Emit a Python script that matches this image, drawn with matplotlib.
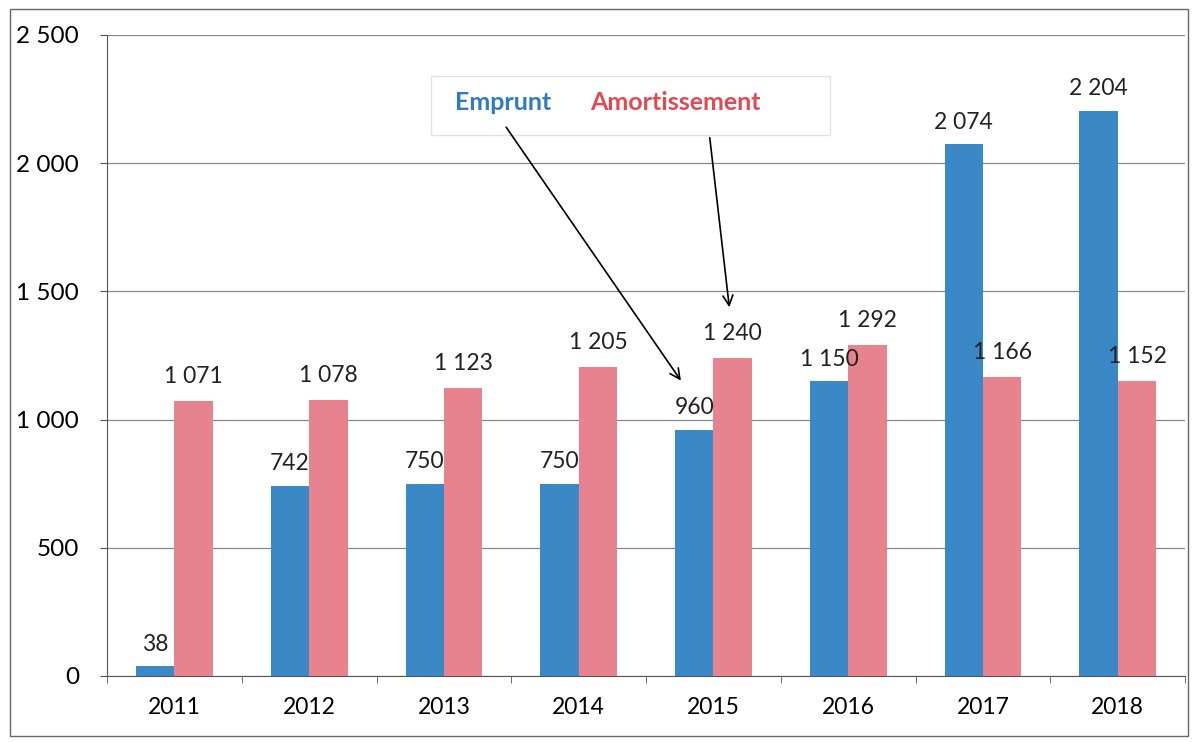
import numpy as np
import matplotlib.pyplot as plt
from matplotlib.patches import Rectangle

years = ['2011', '2012', '2013', '2014', '2015', '2016', '2017', '2018']
emprunt = [38, 742, 750, 750, 960, 1150, 2074, 2204]
amortissement = [1071, 1078, 1123, 1205, 1240, 1292, 1166, 1152]

blue = '#3a88c6'
pink = '#e7838f'


def fmt(v):
	return f"{v:,}".replace(",", " ")


def main():
	plt.rcParams['font.family'] = ['Lato', 'DejaVu Sans']

	fig = plt.figure(figsize=(11.98, 7.42), dpi=100)
	ax = fig.add_axes([0.0893, 0.089, 0.9, 0.864])

	x = np.arange(len(years))
	w = 0.285
	ax.bar(x - w / 2, emprunt, w, color=blue, zorder=3)
	ax.bar(x + w / 2, amortissement, w, color=pink, zorder=3)

	for i in range(len(years)):
		ax.text(x[i] - w / 2, emprunt[i] + 85, fmt(emprunt[i]), ha='center', va='center', fontsize=16.5, color='#222222', zorder=4)
		ax.text(x[i] + w / 2, amortissement[i] + 95, fmt(amortissement[i]), ha='center', va='center', fontsize=16.5, color='#222222', zorder=4)

	ax.set_xlim(-0.5, len(years) - 0.5)
	ax.set_ylim(0, 2500)
	ax.set_yticks(range(0, 2501, 500))
	ax.set_yticklabels([fmt(v) for v in range(0, 2501, 500)], fontsize=17.5)
	ax.set_xticks(x)
	ax.set_xticklabels(years, fontsize=16.5)
	ax.set_xticks(np.arange(-0.5, len(years)), minor=True)
	ax.tick_params(axis='x', which='major', length=0, pad=15)
	ax.tick_params(axis='x', which='minor', length=5, color='#555555')
	ax.tick_params(axis='y', length=5, pad=15, color='#555555')

	ax.grid(axis='y', color='#888888', linewidth=0.9, zorder=0)
	for s in ['top', 'right']:
		ax.spines[s].set_visible(False)
	ax.spines['left'].set_color('#555555')
	ax.spines['bottom'].set_color('#555555')

	# legend box with arrows
	ax.add_patch(Rectangle((0.36, 0.818), 0.333, 0.08, transform=fig.transFigure, clip_on=False,
		facecolor='white', edgecolor='#e2e2e2', linewidth=1, zorder=5))
	ax.text(0.42, 0.862, 'Emprunt', transform=fig.transFigure, color='#2e7bc4', fontsize=18,
		fontweight='bold', ha='center', va='center', zorder=7)
	ax.text(0.564, 0.862, 'Amortissement', transform=fig.transFigure, color='#e04a52', fontsize=18,
		fontweight='bold', ha='center', va='center', zorder=7)
	ax.annotate('', xy=(3.77, 1143), xytext=(2.45, 2149), zorder=6,
		arrowprops=dict(arrowstyle='->', color='black', lw=1.2, mutation_scale=18))
	ax.annotate('', xy=(4.12, 1427), xytext=(3.97, 2110), zorder=6,
		arrowprops=dict(arrowstyle='->', color='black', lw=1.2, mutation_scale=18))

	fig.patches.append(Rectangle((0.008, 0.008), 0.984, 0.98, transform=fig.transFigure,
		facecolor='none', edgecolor='#666666', linewidth=1))

	fig.savefig('out.png', dpi=100)


if __name__ == '__main__':
	main()
